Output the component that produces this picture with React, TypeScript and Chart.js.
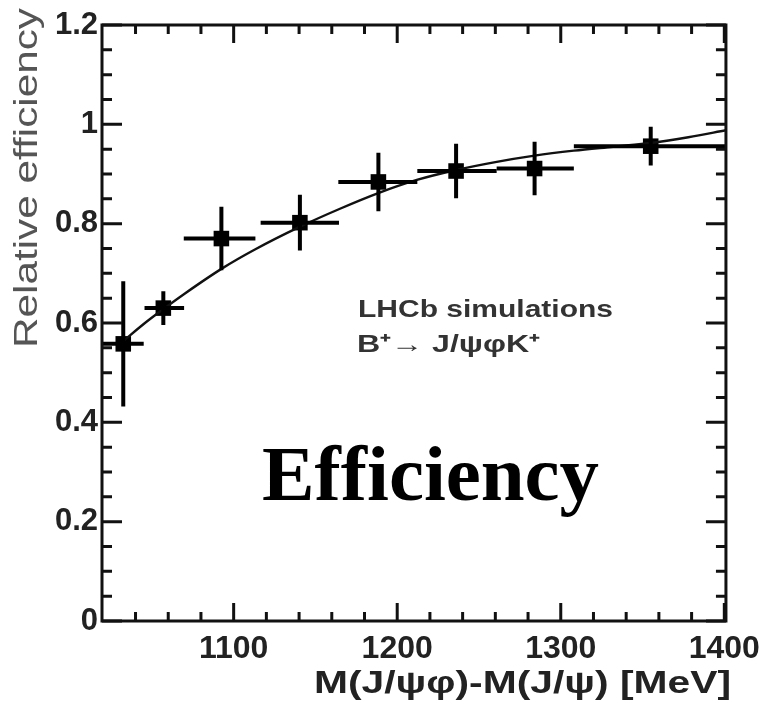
import React, { useEffect, useRef } from "react";
import { Chart, registerables } from "chart.js";

Chart.register(...registerables);

// ---- data ----
const binCenters = [1032.5, 1057, 1092.5, 1140.5, 1188.5, 1236, 1284, 1355];
const binLow = [1019.5, 1045.5, 1069.5, 1116.5, 1164, 1212.3, 1260.8, 1308];
const binHigh = [1045, 1069.7, 1113.3, 1164.4, 1212.3, 1260.8, 1308, 1401];
const effValues = [0.558, 0.63, 0.77, 0.802, 0.884, 0.906, 0.911, 0.956];
const effErrors = [0.126, 0.034, 0.064, 0.056, 0.059, 0.055, 0.054, 0.039];

const fitX = [1033, 1045, 1057, 1070, 1093, 1113, 1140, 1165, 1188, 1212, 1236, 1260, 1284, 1308, 1332, 1356, 1378, 1401];
const fitY = [0.565, 0.598, 0.628, 0.659, 0.71, 0.748, 0.793, 0.83, 0.861, 0.888, 0.908, 0.924, 0.937, 0.947, 0.955, 0.963, 0.974, 0.988];

const xLabelTicks = [1100, 1200, 1300, 1400];
const xMinorTicks = [1040, 1060, 1080, 1100, 1120, 1140, 1160, 1180, 1200, 1220, 1240, 1260, 1280, 1300, 1320, 1340, 1360, 1380, 1400];
const yLabelTicks = [0, 0.2, 0.4, 0.6, 0.8, 1, 1.2];
const yMinorTicks = [0, 0.05, 0.1, 0.15, 0.2, 0.25, 0.3, 0.35, 0.4, 0.45, 0.5, 0.55, 0.6, 0.65, 0.7, 0.75, 0.8, 0.85, 0.9, 0.95, 1, 1.05, 1.1, 1.15, 1.2];

const xTitle = "M(J/\u03C8\u03C6)-M(J/\u03C8) [MeV]";
const yTitle = "Relative efficiency";
const legendLine1 = "LHCb simulations";
const legendLine2 = "B\u207A\u2192 J/\u03C8\u03C6K\u207A";
const bigLabel = "Efficiency";

const X_MIN = 1019.5;
const X_MAX = 1401;

function drawStretched(
  ctx: CanvasRenderingContext2D,
  text: string,
  x: number,
  y: number,
  font: string,
  color: string,
  targetWidth: number,
  rotate = 0
) {
  ctx.save();
  ctx.font = font;
  ctx.fillStyle = color;
  ctx.textAlign = "left";
  ctx.textBaseline = "alphabetic";
  const w = ctx.measureText(text).width;
  const sx = targetWidth / w;
  ctx.translate(x, y);
  if (rotate) ctx.rotate(rotate);
  ctx.scale(sx, 1);
  ctx.fillText(text, 0, 0);
  ctx.restore();
}

const rootPlugin = {
  id: "rootStyle",
  afterDatasetsDraw(chart: any) {
    const { ctx, scales } = chart;
    const x = scales.x;
    const y = scales.y;
    ctx.save();
    ctx.strokeStyle = "#000";
    ctx.lineWidth = 4;
    ctx.lineCap = "butt";
    for (let i = 0; i < binCenters.length; i++) {
      const px = x.getPixelForValue(binCenters[i]);
      const py = y.getPixelForValue(effValues[i]);
      ctx.beginPath();
      ctx.moveTo(x.getPixelForValue(binLow[i]), py);
      ctx.lineTo(x.getPixelForValue(binHigh[i]), py);
      ctx.moveTo(px, y.getPixelForValue(effValues[i] + effErrors[i]));
      ctx.lineTo(px, y.getPixelForValue(effValues[i] - effErrors[i]));
      ctx.stroke();
    }
    ctx.restore();
  },
  afterDraw(chart: any) {
    const { ctx, chartArea: a, scales } = chart;
    const x = scales.x;
    const y = scales.y;
    ctx.save();
    ctx.strokeStyle = "#111";
    // ticks (inward, all four sides)
    ctx.lineWidth = 3;
    ctx.beginPath();
    xMinorTicks.forEach((v) => {
      const px = x.getPixelForValue(v);
      const len = xLabelTicks.includes(v) ? 18 : 9;
      ctx.moveTo(px, a.bottom);
      ctx.lineTo(px, a.bottom - len);
      ctx.moveTo(px, a.top);
      ctx.lineTo(px, a.top + len);
    });
    yMinorTicks.forEach((v) => {
      const py = y.getPixelForValue(v);
      const major = yLabelTicks.some((t) => Math.abs(t - v) < 1e-6);
      const len = major ? 20 : 10;
      ctx.moveTo(a.left, py);
      ctx.lineTo(a.left + len, py);
      ctx.moveTo(a.right, py);
      ctx.lineTo(a.right - len, py);
    });
    ctx.stroke();
    // frame
    ctx.lineWidth = 3;
    ctx.strokeRect(a.left, a.top, a.right - a.left, a.bottom - a.top);
    ctx.restore();

    // texts
    drawStretched(ctx, legendLine1, 358, 317, "bold 24px 'Liberation Sans'", "#333", 255);
    drawStretched(ctx, legendLine2, 357, 352, "bold 24px 'Liberation Sans'", "#333", 183);
    drawStretched(ctx, bigLabel, 262, 500, "bold 78px 'Liberation Serif'", "#000", 337);
    drawStretched(ctx, xTitle, 314, 693, "bold 32px 'Liberation Sans'", "#222", 417);
    drawStretched(ctx, yTitle, 37, 348, "34px 'Liberation Sans'", "#555", 340, -Math.PI / 2);
  },
};

export default function App() {
  const canvasRef = useRef<HTMLCanvasElement | null>(null);

  useEffect(() => {
    const canvas = canvasRef.current;
    if (!canvas) return;
    const chart = new Chart(canvas, {
      type: "scatter",
      data: {
        datasets: [
          {
            type: "line",
            label: "fit",
            data: fitX.map((v, i) => ({ x: v, y: fitY[i] })),
            borderColor: "#111",
            borderWidth: 2.4,
            pointRadius: 0,
            cubicInterpolationMode: "monotone",
            fill: false,
          } as any,
          {
            type: "scatter",
            label: "eff",
            data: binCenters.map((v, i) => ({ x: v, y: effValues[i] })),
            backgroundColor: "#000",
            borderColor: "#000",
            pointStyle: "rect",
            pointRadius: 11,
            borderWidth: 0,
          },
        ],
      },
      options: {
        responsive: false,
        animation: false,
        devicePixelRatio: 1,
        layout: { padding: { left: 0, top: 25, right: 37, bottom: 0 } },
        plugins: { legend: { display: false }, tooltip: { enabled: false } },
        scales: {
          x: {
            type: "linear",
            min: X_MIN,
            max: X_MAX,
            grid: { display: false, drawTicks: false },
            border: { display: false },
            afterBuildTicks: (axis: any) => {
              axis.ticks = xLabelTicks.map((v) => ({ value: v }));
            },
            afterFit: (axis: any) => {
              axis.height = 90;
            },
            ticks: {
              autoSkip: false,
              maxRotation: 0,
              padding: 9,
              color: "#222",
              font: { family: "'Liberation Sans'", size: 32, weight: "bold" },
              callback: (v: any) => String(v),
            },
          },
          y: {
            type: "linear",
            min: 0,
            max: 1.2,
            grid: { display: false, drawTicks: false },
            border: { display: false },
            afterBuildTicks: (axis: any) => {
              axis.ticks = yLabelTicks.map((v) => ({ value: v }));
            },
            afterFit: (axis: any) => {
              axis.width = 102;
            },
            ticks: {
              autoSkip: false,
              padding: 4,
              color: "#222",
              font: { family: "'Liberation Sans'", size: 31, weight: "bold" },
              callback: (v: any) => String(Math.round(Number(v) * 10) / 10),
            },
          },
        },
      },
      plugins: [rootPlugin],
    });
    return () => chart.destroy();
  }, []);

  return (
    <div style={{ position: "absolute", left: 0, top: 0, width: 769, height: 711, background: "#fff" }}>
      <canvas ref={canvasRef} width={769} height={711} style={{ display: "block" }} />
    </div>
  );
}
